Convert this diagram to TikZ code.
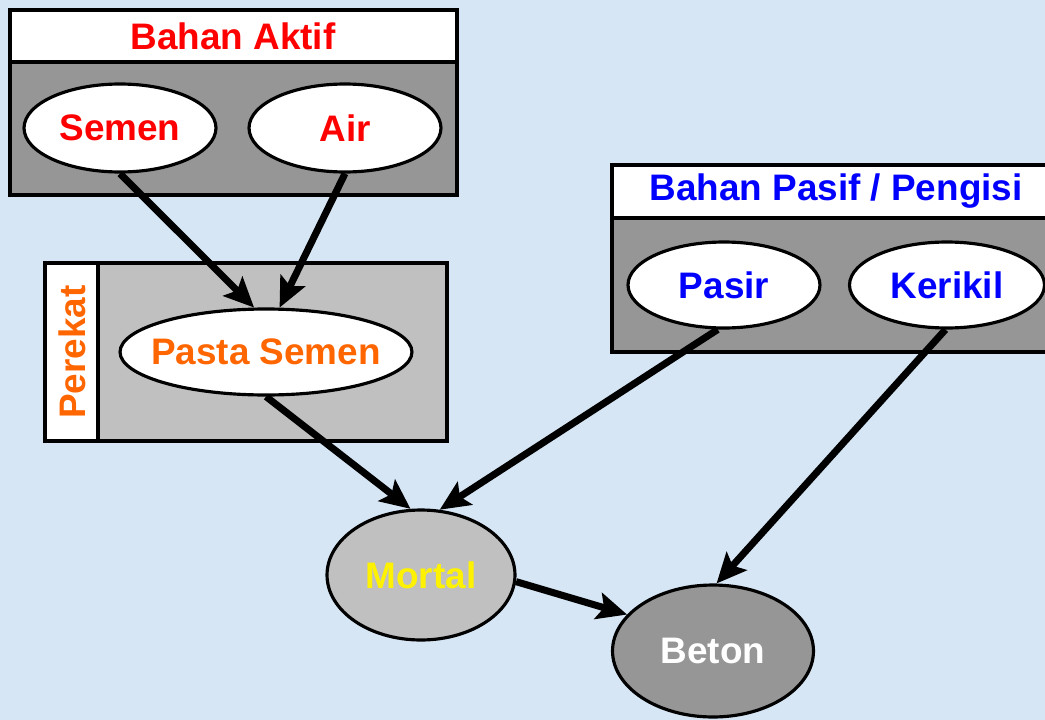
\documentclass[tikz,border=0pt]{standalone}
\usepackage{fontspec}
\setmainfont{Liberation Sans}
\usepackage{tikz}
\usetikzlibrary{shapes.geometric,arrows.meta}

\definecolor{bgblue}{RGB}{214,230,245}
\definecolor{darkgray}{RGB}{150,150,150}
\definecolor{lightgray}{RGB}{192,192,192}
\definecolor{orangetxt}{RGB}{255,102,0}

\tikzset{
  oval/.style={ellipse,draw=black,line width=1.8pt,fill=white,inner sep=0pt,
    minimum width=3.84cm,minimum height=1.76cm,font=\fontsize{21}{25}\selectfont\bfseries},
  boxline/.style={draw=black,line width=1.9pt},
  title/.style={font=\fontsize{21}{25}\selectfont\bfseries},
  arr/.style={line width=4pt,-{Stealth[length=0.6cm,width=0.54cm,inset=0.12cm]}}
}

\begin{document}
\begin{tikzpicture}[x=0.02cm,y=-0.02cm]
    \useasboundingbox (0,0) rectangle (1045,720);
    \clip (0,0) rectangle (1045,720);
    \fill[bgblue] (0,0) rectangle (1045,720);
    % bahan aktif
    \draw[boxline,fill=darkgray] (10,62) rectangle (457,195);
    \draw[boxline,fill=white] (10,10) rectangle (457,62);
    \node[title,text=red] (aktif) at (233,36) {Bahan Aktif};
    \node[oval,text=red] (semen) at (120,128) {Semen};
    \node[oval,text=red] (air) at (345,128) {Air};
    % perekat
    \draw[boxline,fill=lightgray] (98,263) rectangle (447,441);
    \draw[boxline,fill=white] (45,263) rectangle (98,441);
    \node[title,text=orangetxt,rotate=90] (perekat) at (72,352) {Perekat};
    \node[oval,text=orangetxt,inner xsep=-0.24cm,minimum width=5.84cm,minimum height=1.72cm] (pasta) at (266,352) {Pasta Semen};
    % bahan pasif
    \draw[boxline,fill=darkgray] (612,218) rectangle (1060,352);
    \draw[boxline,fill=white] (612,165) rectangle (1060,218);
    \node[title,text=blue] (pasif) at (836,191) {Bahan Pasif / Pengisi};
    \node[oval,text=blue,minimum height=1.72cm] (pasir) at (724,285) {Pasir};
    \node[oval,text=blue,minimum width=3.9cm,minimum height=1.72cm] (kerikil) at (947,285) {Kerikil};
    % hasil
    \node[oval,fill=lightgray,text=yellow,minimum width=3.76cm,minimum height=2.6cm] (mortal) at (421,575) {Mortal};
    \node[oval,fill=darkgray,text=white,minimum width=4.02cm,minimum height=2.64cm] (beton) at (713,651) {Beton};
    \draw[arr] (semen.south) -- (pasta.105);
    \draw[arr] (air.south) -- (pasta.73);
    \draw[arr] (pasta.south) -- (mortal.99);
    \draw[arr] (pasir.262) -- (mortal.74);
    \draw[arr] (kerikil.268) -- (beton.87);
    \draw[arr] (mortal.356) -- (beton.157);
\end{tikzpicture}
\end{document}
